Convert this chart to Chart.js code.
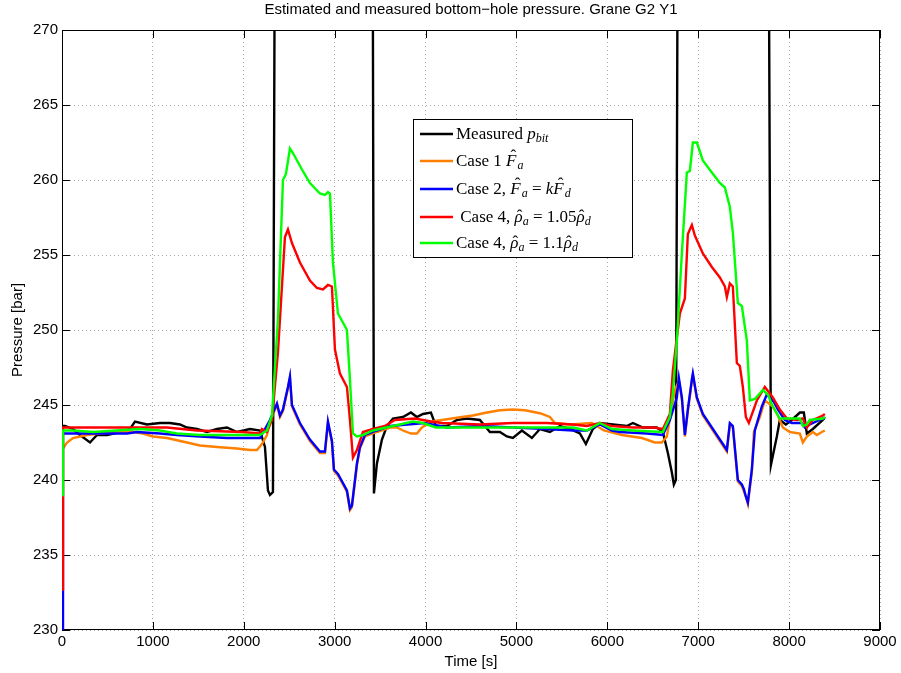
<!DOCTYPE html>
<html>
<head>
<meta charset="utf-8">
<script src="https://cdn.jsdelivr.net/npm/chart.js@4.4.1/dist/chart.umd.min.js"></script>
<style>
  body { margin: 0; background: #fff; }
</style>
</head>
<body>
<canvas id="bhpChart" width="901" height="673"></canvas>
<script>
// values (time in s, pressure in bar)
// values of 300 / 225 are off-scale and get clipped by the axes
var measuredT = [0, 33, 121, 198, 308, 385, 495, 638, 748, 803, 935, 1078, 1188, 1298, 1375, 1485, 1595, 1705, 1815, 1925, 2068, 2178, 2233, 2266, 2288, 2321, 2354, 3410, 3432, 3465, 3520, 3575, 3641, 3751, 3839, 3905, 3971, 4059, 4114, 4235, 4345, 4455, 4598, 4708, 4818, 4895, 4961, 5060, 5170, 5258, 5368, 5478, 5588, 5698, 5764, 5841, 5918, 6061, 6215, 6281, 6391, 6545, 6611, 6666, 6710, 6732, 6754, 6787, 7760, 7800, 7865, 7898, 7964, 8030, 8118, 8162, 8195, 8261, 8371, 8393];
var measuredP = [243.6, 243.6, 243.4, 243.0, 242.5, 243.0, 243.0, 243.2, 243.4, 243.9, 243.7, 243.8, 243.8, 243.7, 243.5, 243.4, 243.2, 243.4, 243.5, 243.2, 243.4, 243.3, 242.2, 239.3, 239.0, 239.2, 300, 300, 239.1, 241.1, 242.7, 243.6, 244.1, 244.2, 244.5, 244.2, 244.4, 244.5, 243.6, 243.6, 244.0, 244.1, 244.0, 243.2, 243.2, 242.9, 242.8, 243.3, 242.8, 243.4, 243.2, 243.6, 243.4, 243.1, 242.4, 243.4, 243.8, 243.7, 243.6, 243.8, 243.5, 243.5, 243.2, 241.8, 240.5, 239.7, 240.0, 300, 300, 241.0, 242.9, 244.0, 243.7, 244.0, 244.5, 244.5, 243.1, 243.4, 244.0, 244.2];

var case1T = [0, 55, 121, 275, 418, 605, 781, 891, 1001, 1155, 1375, 1518, 1705, 1925, 2068, 2145, 2200, 2255, 2288, 2365, 2398, 2431, 2486, 2508, 2530, 2618, 2728, 2838, 2893, 2926, 2970, 2992, 3036, 3091, 3135, 3168, 3190, 3245, 3278, 3333, 3465, 3608, 3685, 3751, 3839, 3905, 3960, 4070, 4180, 4290, 4400, 4521, 4675, 4818, 4961, 5093, 5258, 5368, 5423, 5588, 5830, 5962, 6160, 6380, 6523, 6600, 6655, 6743, 6787, 6820, 6853, 6886, 6930, 6941, 6985, 7051, 7205, 7271, 7315, 7348, 7381, 7436, 7480, 7524, 7546, 7590, 7612, 7678, 7733, 7821, 7876, 7931, 8008, 8118, 8151, 8195, 8261, 8305, 8360, 8393];
var case1P = [242.0, 242.5, 242.8, 243.0, 243.1, 243.2, 243.2, 243.1, 242.9, 242.8, 242.5, 242.3, 242.2, 242.1, 242.0, 242.0, 242.4, 243.0, 243.9, 245.0, 244.2, 244.6, 246.1, 246.8, 244.9, 243.7, 242.6, 241.8, 241.8, 243.8, 242.5, 240.6, 240.3, 239.7, 239.2, 238.0, 238.2, 241.0, 242.1, 242.9, 243.2, 243.5, 243.5, 243.3, 243.1, 243.1, 243.5, 243.9, 244.0, 244.1, 244.2, 244.3, 244.5, 244.65, 244.7, 244.65, 244.45, 244.2, 243.8, 243.7, 243.8, 243.3, 243.0, 242.8, 242.5, 242.5, 242.9, 246.0, 246.6, 245.4, 242.9, 244.6, 246.6, 247.0, 245.4, 244.3, 242.9, 242.3, 241.9, 243.7, 243.5, 239.9, 239.6, 238.9, 238.4, 240.5, 243.2, 244.2, 245.3, 244.9, 244.3, 243.5, 243.2, 243.1, 242.5, 242.9, 243.2, 243.0, 243.2, 243.3];

var case2T = [0, 11, 121, 341, 715, 825, 1078, 1265, 1518, 1815, 2178, 2288, 2365, 2398, 2431, 2486, 2508, 2530, 2618, 2728, 2838, 2893, 2926, 2970, 2992, 3036, 3091, 3135, 3168, 3190, 3245, 3278, 3333, 3465, 3608, 3993, 4235, 4620, 4961, 5335, 5621, 5775, 5918, 6050, 6138, 6435, 6611, 6688, 6765, 6787, 6820, 6853, 6886, 6930, 6941, 6985, 7051, 7205, 7271, 7315, 7348, 7381, 7436, 7480, 7502, 7524, 7546, 7590, 7623, 7700, 7755, 7832, 7876, 7953, 8030, 8140, 8173, 8228, 8371, 8393];
var case2P = [225, 243.1, 243.1, 243.1, 243.1, 243.2, 243.1, 243.0, 242.9, 242.8, 242.8, 244.0, 245.1, 244.3, 244.7, 246.2, 246.9, 245.0, 243.8, 242.7, 241.9, 241.9, 243.9, 242.6, 240.7, 240.4, 239.8, 239.3, 238.1, 238.3, 241.1, 242.2, 243.0, 243.3, 243.6, 243.8, 243.5, 243.6, 243.5, 243.4, 243.3, 243.3, 243.7, 243.3, 243.2, 243.1, 243.0, 244.0, 245.5, 246.8, 245.5, 243.0, 244.7, 246.7, 247.1, 245.5, 244.4, 243.0, 242.4, 242.0, 243.8, 243.6, 240.0, 239.7, 239.4, 238.9, 238.5, 240.7, 243.3, 244.9, 245.7, 245.2, 244.7, 244.0, 243.8, 243.8, 243.5, 243.7, 244.1, 244.1];

var case4aT = [0, 11, 253, 770, 1155, 1485, 1980, 2178, 2200, 2255, 2310, 2376, 2453, 2486, 2530, 2618, 2728, 2805, 2871, 2926, 2970, 3003, 3058, 3135, 3168, 3201, 3245, 3311, 3421, 3553, 3663, 3883, 4059, 4180, 4598, 4961, 5335, 5621, 5775, 5918, 6050, 6281, 6501, 6611, 6688, 6721, 6765, 6798, 6853, 6886, 6930, 6963, 7051, 7150, 7238, 7293, 7315, 7348, 7381, 7425, 7458, 7491, 7524, 7557, 7645, 7733, 7821, 7898, 7975, 8085, 8151, 8195, 8261, 8371, 8393];
var case4aP = [232.7, 243.5, 243.5, 243.5, 243.5, 243.3, 243.2, 243.1, 243.4, 243.2, 244.0, 248.5, 256.2, 256.7, 255.8, 254.5, 253.3, 252.8, 252.7, 253.0, 252.9, 248.7, 247.1, 246.2, 244.0, 241.5, 242.0, 243.2, 243.4, 243.6, 244.0, 244.1, 243.9, 243.8, 243.7, 243.8, 243.8, 243.7, 243.6, 243.8, 243.6, 243.5, 243.5, 243.4, 244.4, 247.3, 249.5, 251.1, 252.1, 256.4, 257.0, 256.3, 255.1, 254.2, 253.5, 252.9, 252.2, 253.1, 252.9, 247.8, 247.6, 246.2, 244.2, 243.8, 245.3, 246.2, 245.5, 244.7, 244.1, 244.0, 244.1, 243.5, 244.0, 244.3, 244.4];

var case4bT = [0, 11, 121, 341, 858, 1078, 1265, 1518, 2178, 2255, 2310, 2376, 2431, 2464, 2508, 2541, 2640, 2728, 2838, 2893, 2926, 2948, 2981, 3036, 3091, 3135, 3168, 3201, 3245, 3311, 3421, 3641, 3861, 3971, 4114, 4598, 5335, 5621, 5775, 5918, 6050, 6281, 6611, 6688, 6721, 6765, 6820, 6875, 6908, 6941, 6985, 7051, 7150, 7238, 7293, 7348, 7381, 7436, 7480, 7535, 7568, 7623, 7711, 7766, 7821, 7898, 8118, 8151, 8195, 8228, 8371, 8393];
var case4bP = [239.0, 243.3, 243.3, 243.2, 243.4, 243.3, 243.1, 243.0, 243.0, 243.3, 244.3, 250.7, 260.0, 260.4, 262.1, 261.8, 260.7, 259.8, 259.1, 259.0, 259.2, 259.1, 254.5, 251.1, 250.5, 250.0, 246.7, 243.1, 242.9, 243.0, 243.3, 243.6, 243.9, 243.8, 243.5, 243.5, 243.5, 243.5, 243.3, 243.8, 243.4, 243.3, 243.2, 244.2, 245.8, 249.3, 255.1, 260.5, 260.6, 262.5, 262.5, 261.3, 260.5, 259.8, 259.5, 258.2, 256.5, 251.8, 251.6, 249.3, 245.3, 245.4, 246.0, 245.7, 244.9, 244.1, 244.1, 243.6, 243.7, 244.0, 244.1, 244.2];

var xTicks = [0, 1000, 2000, 3000, 4000, 5000, 6000, 7000, 8000, 9000];
var yTicks = [230, 235, 240, 245, 250, 255, 260, 265, 270];

var seriesColors = ['#000000', '#ff8000', '#0000ff', '#ff0000', '#00ff00'];

// legend entries as text runs: [text, style]
// n = upright, i = italic, s = italic subscript, H = italic capital with hat, h = italic lowercase with hat
var legendRuns = [
  [['Measured ', 'n'], ['p', 'i'], ['bit', 's']],
  [['Case 1 ', 'n'], ['F', 'H'], ['a', 's']],
  [['Case 2, ', 'n'], ['F', 'H'], ['a', 's'], [' = ', 'n'], ['k', 'i'], ['F', 'H'], ['d', 's']],
  [[' Case 4, ', 'n'], ['\u03c1', 'h'], ['a', 's'], [' = 1.05', 'n'], ['\u03c1', 'h'], ['d', 's']],
  [['Case 4, ', 'n'], ['\u03c1', 'h'], ['a', 's'], [' = 1.1', 'n'], ['\u03c1', 'h'], ['d', 's']]
];
var seriesLabels = ['Measured p_bit', 'Case 1 F_a', 'Case 2, F_a = kF_d', 'Case 4, rho_a = 1.05 rho_d', 'Case 4, rho_a = 1.1 rho_d'];

function pairs(t, p) {
  return t.map(function (v, i) { return { x: v, y: p[i] }; });
}

var sans = 'Liberation Sans';
var serif = 'Liberation Serif';
var legendSize = 17;
var axisSize = 15;
var lineW = 2.4;

// matlab style box with inward ticks, under the data lines
var matlabFrame = {
  id: 'matlabFrame',
  beforeDatasetsDraw: function (chart) {
    var ctx = chart.ctx;
    var a = chart.chartArea;
    var xs = chart.scales.x;
    var ys = chart.scales.y;
    var tl = 8;
    ctx.save();
    ctx.strokeStyle = '#000';
    ctx.lineWidth = 1;
    ctx.beginPath();
    xTicks.forEach(function (v) {
      var px = Math.round(xs.getPixelForValue(v)) + 0.5;
      ctx.moveTo(px, a.bottom); ctx.lineTo(px, a.bottom - tl);
      ctx.moveTo(px, a.top); ctx.lineTo(px, a.top + tl);
    });
    yTicks.forEach(function (v) {
      var py = Math.round(ys.getPixelForValue(v)) + 0.5;
      ctx.moveTo(a.left, py); ctx.lineTo(a.left + tl, py);
      ctx.moveTo(a.right, py); ctx.lineTo(a.right - tl, py);
    });
    ctx.stroke();
    ctx.strokeRect(Math.round(a.left) + 0.5, Math.round(a.top) + 0.5,
      Math.round(a.right - a.left) - 1, Math.round(a.bottom - a.top) - 1);
    ctx.restore();
  },
  // legend box on top of everything
  afterDraw: function (chart) {
    var ctx = chart.ctx;
    ctx.save();
    var lx = 413, ly = 119, lw = 219, lh = 138;
    ctx.fillStyle = '#fff';
    ctx.fillRect(lx, ly, lw, lh);
    ctx.strokeStyle = '#000';
    ctx.lineWidth = 1;
    ctx.strokeRect(lx + 0.5, ly + 0.5, lw, lh);
    var rows = [134, 161, 189, 217, 243];
    legendRuns.forEach(function (runs, i) {
      var y = rows[i];
      ctx.strokeStyle = seriesColors[i];
      ctx.lineWidth = lineW;
      ctx.beginPath();
      ctx.moveTo(420, y); ctx.lineTo(453, y);
      ctx.stroke();
      var x = 456;
      ctx.fillStyle = '#000';
      ctx.textBaseline = 'alphabetic';
      ctx.textAlign = 'left';
      var base = y + 5;
      runs.forEach(function (r) {
        var st = r[1];
        var dy = 0;
        if (st === 'n') ctx.font = legendSize + 'px "' + serif + '"';
        else if (st === 's') { ctx.font = 'italic 12px "' + serif + '"'; dy = 3; }
        else ctx.font = 'italic ' + legendSize + 'px "' + serif + '"';
        ctx.fillText(r[0], x, base + dy);
        var w = ctx.measureText(r[0]).width;
        if (st === 'H' || st === 'h') {
          ctx.save();
          ctx.font = legendSize + 'px "' + serif + '"';
          ctx.textAlign = 'center';
          var lift = st === 'H' ? 5 : 1;
          ctx.fillText('\u02c6', x + w / 2 + (st === 'H' ? 2 : 1), base - lift);
          ctx.restore();
        }
        x += w + (st === 'H' ? 1 : 0);
      });
    });
    ctx.restore();
  }
};

function plainTick(v) { return String(v); }

var ctx = document.getElementById('bhpChart').getContext('2d');
var bhpChart = new Chart(ctx, {
  type: 'line',
  data: {
    datasets: [
      { label: seriesLabels[0], data: pairs(measuredT, measuredP), borderColor: seriesColors[0], order: 5 },
      { label: seriesLabels[1], data: pairs(case1T, case1P), borderColor: seriesColors[1], order: 4 },
      { label: seriesLabels[2], data: pairs(case2T, case2P), borderColor: seriesColors[2], order: 3 },
      { label: seriesLabels[3], data: pairs(case4aT, case4aP), borderColor: seriesColors[3], order: 2 },
      { label: seriesLabels[4], data: pairs(case4bT, case4bP), borderColor: seriesColors[4], order: 1 }
    ]
  },
  options: {
    responsive: false,
    animation: false,
    datasets: {
      line: { borderWidth: lineW, pointRadius: 0, tension: 0, fill: false }
    },
    layout: { padding: { left: 0, right: 21, top: 0, bottom: 0 } },
    plugins: {
      legend: { display: false },
      tooltip: { enabled: false },
      title: {
        display: true,
        fullSize: false,
        text: 'Estimated and measured bottom\u2212hole pressure. Grane G2 Y1',
        color: '#000',
        font: { family: sans, size: 15, weight: 'normal' },
        padding: { top: 1, bottom: 11 }
      }
    },
    scales: {
      x: {
        type: 'linear',
        min: 0,
        max: 9000,
        afterFit: function (s) { s.height = 43; },
        afterBuildTicks: function (s) { s.ticks = xTicks.map(function (v) { return { value: v }; }); },
        ticks: { autoSkip: false, maxRotation: 0, color: '#000', padding: 3, font: { family: sans, size: axisSize }, callback: plainTick },
        grid: { color: '#a8a8a8', drawTicks: false },
        border: { display: false, dash: [1, 3] },
        title: { display: true, text: 'Time [s]', color: '#000', font: { family: sans, size: axisSize }, padding: { top: 0, bottom: 2 } }
      },
      y: {
        type: 'linear',
        min: 230,
        max: 270,
        afterFit: function (s) { s.width = 62; },
        afterBuildTicks: function (s) { s.ticks = yTicks.map(function (v) { return { value: v }; }); },
        ticks: { color: '#000', padding: 4, font: { family: sans, size: axisSize }, callback: plainTick },
        grid: { color: '#a8a8a8', drawTicks: false },
        border: { display: false, dash: [1, 3] },
        title: { display: true, text: 'Pressure [bar]', color: '#000', font: { family: sans, size: axisSize }, padding: { top: 9, bottom: 0 } }
      }
    }
  },
  plugins: [matlabFrame]
});
</script>
</body>
</html>
